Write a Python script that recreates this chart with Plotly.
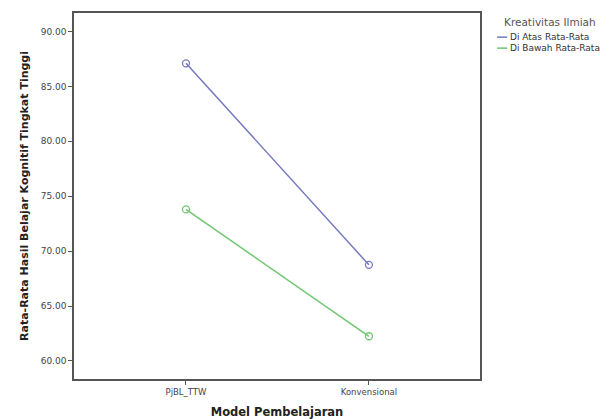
import plotly.graph_objects as go

categories = ["PjBL_TTW", "Konvensional"]
series_names = ["Di Atas Rata-Rata", "Di Bawah Rata-Rata"]
atas_values = [87.1, 68.75]
bawah_values = [73.8, 62.25]
y_tick_vals = [60, 65, 70, 75, 80, 85, 90]
y_tick_text = ["60.00", "65.00", "70.00", "75.00", "80.00", "85.00", "90.00"]
legend_title = "Kreativitas Ilmiah"

colors = ["#7678bd", "#70c670"]
x_idx = list(range(len(categories)))

fig = go.Figure()
for name, vals, col in zip(series_names, [atas_values, bawah_values], colors):
    fig.add_trace(go.Scatter(x=x_idx, y=vals, mode="lines", name=name,
                             line=dict(color=col, width=1.5), showlegend=False))
    fig.add_trace(go.Scatter(x=x_idx, y=vals, mode="markers", showlegend=False,
                             marker=dict(symbol="circle-open", size=7,
                                         color=col, line=dict(width=1.3))))

# Legend drawn as annotations with short line samples (paper coordinates)
fig.add_annotation(xref="paper", yref="paper", x=1.172, y=0.975,
                   text=legend_title, showarrow=False, xanchor="center", yanchor="middle",
                   font=dict(family="DejaVu Sans, sans-serif", size=10.5, color="#555"))
leg_y = [0.934, 0.904]
for name, col, yy in zip(series_names, colors, leg_y):
    fig.add_shape(type="line", xref="paper", yref="paper", x0=1.042, x1=1.067,
                  y0=yy, y1=yy, line=dict(color=col, width=1.5))
    fig.add_annotation(xref="paper", yref="paper", x=1.069, y=yy, text=name,
                       showarrow=False, xanchor="left", yanchor="middle",
                       font=dict(family="DejaVu Sans, sans-serif", size=9, color="#333"))

# page body has an 8px default margin, so the figure is 8px smaller and shifted
fig.update_layout(
    width=605, height=411,
    margin=dict(l=66, r=133, t=5, b=40, autoexpand=False),
    paper_bgcolor="white", plot_bgcolor="white",
    font=dict(family="DejaVu Sans, sans-serif", color="#333"),
    xaxis=dict(
        range=[-0.612, 1.607], automargin=False,
        tickmode="array", tickvals=x_idx, ticktext=categories,
        ticks="outside", ticklen=4, tickcolor="#555", tickwidth=1,
        tickfont=dict(size=8.5, color="#444"),
        showgrid=False, zeroline=False,
        showline=True, linecolor="#555", linewidth=1.5, mirror=True,
        title=dict(text="<b>Model Pembelajaran</b>", font=dict(size=11.5, color="#222"), standoff=12),
    ),
    yaxis=dict(
        range=[58.36, 91.68], automargin=False,
        tickmode="array", tickvals=y_tick_vals, ticktext=y_tick_text,
        ticks="outside", ticklen=4, tickcolor="#555", tickwidth=1,
        tickfont=dict(size=9, color="#444"),
        showgrid=False, zeroline=False,
        showline=True, linecolor="#555", linewidth=1.5, mirror=True,
        title=dict(text="<b>Rata-Rata Hasil Belajar Kognitif Tingkat Tinggi</b>",
                   font=dict(size=11, color="#222"), standoff=10),
    ),
)

fig.write_html("out.html")
